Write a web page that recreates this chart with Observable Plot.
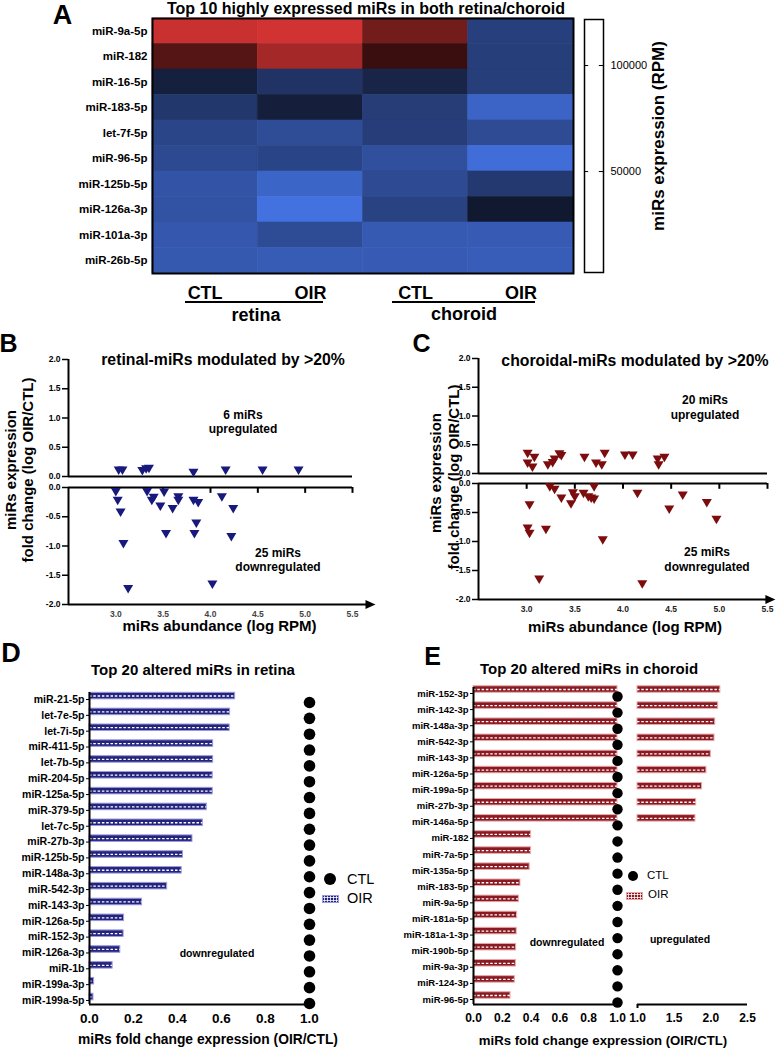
<!DOCTYPE html>
<html><head><meta charset="utf-8">
<script src="https://cdn.jsdelivr.net/npm/d3@7"></script>
<script src="https://cdn.jsdelivr.net/npm/@observablehq/plot@0.6"></script>
<style>
html,body{margin:0;padding:0;background:#fff;}
#root{position:relative;width:780px;height:1049px;overflow:hidden;font-family:"Liberation Sans",Arial,Helvetica,sans-serif;color:#000;background:#fff;}
.t{position:absolute;white-space:nowrap;transform:translate(-50%,-50%);line-height:1;font-weight:bold;}
.r{transform:translate(-50%,-50%) rotate(-90deg);}
.l{position:absolute;white-space:nowrap;transform:translate(0,-50%);line-height:1;}
</style></head><body><div id="root"></div>
<script>
// ---------------- DATA ----------------
// Panel A heatmap (RPM)
const heatMiRs = ["miR-9a-5p","miR-182","miR-16-5p","miR-183-5p","let-7f-5p","miR-96-5p","miR-125b-5p","miR-126a-3p","miR-101a-3p","miR-26b-5p"];
const heatGroups = ["retina CTL","retina OIR","choroid CTL","choroid OIR"];
const heatGroupTicks = ["CTL","OIR","CTL","OIR"];
const retinaCTL_RPM  = [115300, 79200, 53000, 38500, 29700, 27200, 20200, 20800, 17700, 17000];
const retinaOIR_RPM  = [117800,104000, 41000, 53700, 24900, 30000,  9500,  1900, 25300, 15200];
const choroidCTL_RPM = [ 88300, 70300, 49600, 34700, 34500, 23400, 26500, 31600, 16400, 15800];
const choroidOIR_RPM = [ 33500, 34000, 34100, 10100, 25900,  4400, 37300, 57500, 15500, 14500];
const colorbarTicks = [50000, 100000];

// Panels B/C scatter: [abundance (log RPM), fold change (log OIR/CTL)]
const retinaUp = [[3.03,0.10],[3.07,0.10],[3.28,0.09],[3.32,0.12],[3.35,0.13],[3.82,0.06],[4.16,0.10],[4.55,0.10],[4.93,0.10]];
const retinaDown = [[3.00,-0.08],[3.02,-0.23],[3.05,-0.43],[3.08,-0.97],[3.13,-1.74],[3.33,-0.08],[3.38,-0.23],[3.40,-0.18],[3.47,-0.33],[3.51,-0.09],[3.53,-0.80],[3.60,-0.37],[3.66,-0.17],[3.66,-0.23],[3.82,-0.23],[3.87,-0.27],[3.83,-0.80],[3.85,-0.62],[4.02,-1.66],[4.12,-0.17],[4.24,-0.37],[4.22,-0.85]];
const choroidUp = [[3.01,0.34],[3.08,0.27],[3.01,0.17],[3.06,0.10],[3.22,0.14],[3.27,0.18],[3.29,0.24],[3.34,0.33],[3.36,0.30],[3.60,0.27],[3.72,0.17],[3.78,0.14],[3.81,0.34],[4.02,0.31],[4.10,0.31],[4.36,0.24],[4.37,0.14],[4.43,0.27]];
const choroidDown = [[3.03,-0.38],[3.01,-0.78],[3.03,-0.87],[3.20,-0.80],[3.13,-1.66],[3.24,-0.07],[3.29,-0.11],[3.36,-0.26],[3.46,-0.36],[3.48,-0.17],[3.50,-0.24],[3.59,-0.18],[3.64,-0.24],[3.67,-0.26],[3.70,-0.07],[3.70,-0.28],[3.79,-0.98],[4.15,-0.18],[4.20,-1.74],[4.48,-0.45],[4.62,-0.21],[4.87,-0.34],[4.97,-0.63]];
const foldTicksUp = [0, 0.5, 1, 1.5, 2];
const foldTicksDown = [-2, -1.5, -1, -0.5, 0];
const abundanceTicks = [3, 3.5, 4, 4.5, 5, 5.5];

// Panel D
const retinaTop20 = ["miR-21-5p","let-7e-5p","let-7i-5p","miR-411-5p","let-7b-5p","miR-204-5p","miR-125a-5p","miR-379-5p","let-7c-5p","miR-27b-3p","miR-125b-5p","miR-148a-3p","miR-542-3p","miR-143-3p","miR-126a-5p","miR-152-3p","miR-126a-3p","miR-1b","miR-199a-3p","miR-199a-5p"];
const retinaFoldOIR = [0.662,0.639,0.637,0.562,0.562,0.560,0.560,0.533,0.515,0.468,0.425,0.419,0.353,0.239,0.157,0.155,0.140,0.105,0.021,0.018];
const retinaFoldCTL = [1,1,1,1,1,1,1,1,1,1,1,1,1,1,1,1,1,1,1,1];

// Panel E
const choroidTop20 = ["miR-152-3p","miR-142-3p","miR-148a-3p","miR-542-3p","miR-143-3p","miR-126a-5p","miR-199a-5p","miR-27b-3p","miR-146a-5p","miR-182","miR-7a-5p","miR-135a-5p","miR-183-5p","miR-9a-5p","miR-181a-5p","miR-181a-1-3p","miR-190b-5p","miR-9a-3p","miR-124-3p","miR-96-5p"];
const choroidFoldOIR = [2.13,2.10,2.06,2.05,2.00,1.94,1.88,1.80,1.79,0.40,0.40,0.39,0.326,0.315,0.303,0.300,0.296,0.294,0.287,0.257];
const choroidFoldCTL = [1,1,1,1,1,1,1,1,1,1,1,1,1,1,1,1,1,1,1,1];

// ---------------- HELPERS ----------------
const root = document.getElementById("root");
const FONT = '"Liberation Sans", Arial, Helvetica, sans-serif';
const base = {fontFamily: FONT, fontWeight: "bold", background: "transparent", overflow: "visible", color: "#000"};
function place(svg, left, top) {
  svg.style.position = "absolute"; svg.style.left = left + "px"; svg.style.top = top + "px";
  root.appendChild(svg);
}
function txt(s, cx, cy, size, extra = "", cls = "t") {
  const d = document.createElement("div");
  d.className = cls; d.textContent = s;
  d.style.cssText += `left:${cx}px;top:${cy}px;font-size:${size}px;${extra}`;
  root.appendChild(d); return d;
}
function box(left, top, w, h, css) {
  const d = document.createElement("div");
  d.style.cssText = `position:absolute;left:${left}px;top:${top}px;width:${w}px;height:${h}px;${css}`;
  root.appendChild(d); return d;
}
const f1 = d => d.toFixed(1);
const triDown = {draw(ctx) { ctx.moveTo(-5, -4.2); ctx.lineTo(5, -4.2); ctx.lineTo(0, 4.3); ctx.closePath(); }};
const triRight = {draw(ctx) { ctx.moveTo(-5, -4.5); ctx.lineTo(5, 0); ctx.lineTo(-5, 4.5); ctx.closePath(); }};

// ---------------- PANEL A ----------------
const heatData = [];
const heatCols = [retinaCTL_RPM, retinaOIR_RPM, choroidCTL_RPM, choroidOIR_RPM];
heatMiRs.forEach((m, i) => heatCols.forEach((arr, j) => heatData.push({mir: m, group: heatGroups[j], rpm: arr[i]})));

place(Plot.plot({
  width: 780, height: 330, marginLeft: 152, marginRight: 207, marginTop: 18, marginBottom: 57,
  style: base,
  x: {domain: heatGroups, padding: 0, round: false},
  y: {domain: heatMiRs, padding: 0, round: false},
  color: {type: "linear", domain: [0, 60000, 66000, 120000], range: ["#4574e6", "#0f1528", "#2c0b0b", "#d83434"], interpolate: "rgb"},
  marks: [
    Plot.cell(heatData, {x: "group", y: "mir", fill: "rpm", stroke: "rpm", strokeWidth: 0.6, inset: 0}),
    Plot.axisY({tickSize: 0, tickPadding: 5, fontSize: 11.5, label: null}),
    Plot.axisX({tickSize: 0, tickPadding: 12.7, fontSize: 18, label: null, tickFormat: d => heatGroupTicks[heatGroups.indexOf(d)]}),
    Plot.frame({stroke: "black", strokeWidth: 2})
  ]
}), 0, 0);

place(Plot.plot({
  width: 780, height: 330, marginLeft: 584, marginRight: 177, marginTop: 19, marginBottom: 58,
  style: {...base, fontWeight: "normal"},
  x: {domain: [0, 1], axis: null},
  y: {domain: [2400, 121700]},
  marks: [
    Plot.frame({stroke: "black", strokeWidth: 1.5}),
    Plot.ruleY(colorbarTicks, {x1: 0, x2: 0.22}),
    Plot.ruleY(colorbarTicks, {x1: 0.78, x2: 1}),
    Plot.axisY({anchor: "right", ticks: colorbarTicks, tickSize: 0, tickPadding: 7, fontSize: 11, label: null, tickFormat: d3.format("d")})
  ]
}), 0, 0);

txt("A", 62.5, 14.5, 27, "line-height:0.75");
txt("Top 10 highly expressed miRs in both retina/choroid", 366, 8.5, 16, "line-height:0.75");
txt("retina", 256, 315, 18);
txt("choroid", 464, 314, 18);
box(185, 301, 138, 2, "background:#000");
box(392, 301, 143, 2, "background:#000");
txt("miRs expression (RPM)", 658, 136, 17, "", "t r");

// ---------------- PANELS B / C ----------------
function scatter(cfg) {
  const {left, ml, mr, upMT, upMB, loMT, loMB, up, down, color, arrowX, lineX, tickFill} = cfg;
  place(Plot.plot({
    width: 390, height: 150, marginLeft: ml, marginRight: mr, marginTop: upMT, marginBottom: upMB,
    style: base,
    x: {domain: [2.5, 5.5], axis: null},
    y: {domain: [0, 2]},
    marks: [
      Plot.ruleX([2.5], {strokeWidth: 2}),
      Plot.ruleY([0], {x1: 2.5, x2: 5.5, strokeWidth: 1.8}),
      Plot.axisY({ticks: foldTicksUp, tickFormat: f1, tickSize: 6, tickPadding: 2, fontSize: 8.5, strokeWidth: 1.5, label: null}),
      Plot.dot(up, {x: d => d[0], y: d => d[1], symbol: triDown, fill: color})
    ]
  }), left, 340);
  place(Plot.plot({
    width: 390, height: 150, marginLeft: ml, marginRight: mr, marginTop: loMT, marginBottom: loMB,
    style: base,
    x: {domain: [2.5, 5.5]},
    y: {domain: [-2, 0]},
    marks: [
      Plot.ruleX([2.5], {strokeWidth: 2}),
      Plot.ruleY([0], {x1: 2.5, x2: 5.5, strokeWidth: 2}),
      Plot.ruleX(abundanceTicks, {y1: 0, y2: -0.1, strokeWidth: 2}),
      Plot.ruleY([-2], {x1: 2.5, x2: lineX, strokeWidth: 2}),
      Plot.dot([arrowX], {x: d => d, y: -2, symbol: triRight, fill: "black"}),
      Plot.axisY({ticks: foldTicksDown, tickFormat: f1, tickSize: 6, tickPadding: 2, fontSize: 8.5, strokeWidth: 1.5, label: null}),
      Plot.axisX({ticks: abundanceTicks, tickFormat: f1, tickSize: 0, tickPadding: 6, fontSize: 8.5, fill: tickFill, label: null}),
      Plot.dot(down, {x: d => d[0], y: d => d[1], symbol: triDown, fill: color})
    ]
  }), left, 480);
}
scatter({left: 0, ml: 68, mr: 38, upMT: 19, upMB: 14, loMT: 7, loMB: 26, up: retinaUp, down: retinaDown,
  color: "#17197d", arrowX: 5.69, lineX: 5.66, tickFill: "#444"});
scatter({left: 390, ml: 88, mr: 13, upMT: 18, upMB: 17, loMT: 3, loMB: 31, up: choroidUp, down: choroidDown,
  color: "#7d0c0e", arrowX: 5.53, lineX: 5.51, tickFill: "#222"});

txt("B", 8.5, 342.5, 25);
txt("retinal-miRs modulated by >20%", 223, 360, 15.8);
txt("6 miRs", 243, 415, 12);
txt("upregulated", 243, 429, 12);
txt("25 miRs", 278, 553, 12);
txt("downregulated", 278, 567, 12);
txt("miRs expression", 10, 470, 15, "", "t r");
txt("fold change (log OIR/CTL)", 27, 470, 15, "", "t r");
txt("miRs abundance (log RPM)", 219.5, 625, 15);

txt("C", 421.5, 342.5, 25);
txt("choroidal-miRs modulated by >20%", 635, 361, 15.8);
txt("20 miRs", 705, 400, 12);
txt("upregulated", 705, 415, 12);
txt("25 miRs", 707, 552, 12);
txt("downregulated", 707, 567, 12);
txt("miRs expression", 435, 473, 15, "", "t r");
txt("fold change (log OIR/CTL)", 453, 477, 15, "", "t r");
txt("miRs abundance (log RPM)", 625, 626, 15);

// ---------------- PANEL D ----------------
const navy = "#24247c", navyEdge = "#9a9ae0";
const dRows = retinaTop20.map((n, i) => ({name: n, oir: retinaFoldOIR[i], ctl: retinaFoldCTL[i]}));
place(Plot.plot({
  width: 390, height: 409, marginLeft: 89, marginRight: 81, marginTop: 52, marginBottom: 45,
  style: base,
  x: {domain: [0, 1]},
  y: {type: "band", domain: retinaTop20, range: [51.1, 367.9], padding: 0, round: false},
  marks: [
    Plot.barX(dRows, {y: "name", x: "oir", fill: navy, stroke: navyEdge, strokeWidth: 1, insetTop: 1.2, insetBottom: 8.1}),
    Plot.ruleY(dRows, {y: "name", x1: 0, x2: "oir", dy: -3.5, stroke: "white", strokeWidth: 1.3, strokeDasharray: "2.5,1.8"}),
    Plot.dot(dRows, {y: "name", x: "ctl", dy: 3, r: 5.8, fill: "black"}),
    Plot.ruleX([0], {strokeWidth: 2}),
    Plot.ruleY([retinaTop20[retinaTop20.length - 1]], {x1: 0, x2: 1.01, dy: 4, strokeWidth: 2}),
    Plot.axisY({tickSize: 3, tickPadding: 2, fontSize: 10.5, label: null}),
    Plot.axisX({ticks: [0, 0.2, 0.4, 0.6, 0.8, 1], tickFormat: f1, tickSize: 0, tickPadding: 9.3, fontSize: 13.5, label: null})
  ]
}), 0, 640);

txt("D", 11, 652.5, 27);
txt("Top 20 altered miRs in retina", 193, 669, 15);
txt("downregulated", 217, 953, 10.5);
txt("miRs fold change expression (OIR/CTL)", 208, 1040, 13.8);
box(324, 873.3, 12, 12, "background:#000;border-radius:50%");
txt("CTL", 347, 879, 14.5, "font-weight:normal", "l");
box(322, 895, 15, 6, `background:${navy};border:1px solid ${navyEdge};background-image:radial-gradient(circle,#fff 0.9px,transparent 1.3px);background-size:3px 3px`);
txt("OIR", 347, 898, 14.5, "font-weight:normal", "l");

// ---------------- PANEL E ----------------
const red = "#8a1a22", redEdge = "#e8a8a8";
const eRows = choroidTop20.map((n, i) => ({name: n, oir: choroidFoldOIR[i], ctl: choroidFoldCTL[i]}));
const eUp = eRows.filter(d => d.oir > 1);
const yE = {type: "band", domain: choroidTop20, range: [44.95, 367.05], padding: 0, round: false};
place(Plot.plot({
  width: 260, height: 409, marginLeft: 83, marginRight: 33, marginTop: 47, marginBottom: 45,
  style: base,
  x: {domain: [0, 1]},
  y: yE,
  marks: [
    Plot.barX(eRows, {y: "name", x: d => Math.min(d.oir, 1), fill: red, stroke: redEdge, strokeWidth: 1, insetTop: 0.8, insetBottom: 8.8}),
    Plot.ruleY(eRows, {y: "name", x1: 0, x2: d => Math.min(d.oir, 1), dy: -4, stroke: "white", strokeWidth: 1.3, strokeDasharray: "2.5,1.8"}),
    Plot.dot(eRows, {y: "name", x: "ctl", dy: 3, r: 5.2, fill: "black"}),
    Plot.ruleX([0], {strokeWidth: 2}),
    Plot.ruleY([choroidTop20[choroidTop20.length - 1]], {x1: 0, x2: 1, dy: 5, strokeWidth: 2}),
    Plot.axisY({tickSize: 3, tickPadding: 2, fontSize: 9.5, label: null}),
    Plot.axisX({ticks: [0, 0.2, 0.4, 0.6, 0.8, 1], tickFormat: f1, tickSize: 0, tickPadding: 8.8, fontSize: 12, label: null})
  ]
}), 390, 640);

place(Plot.plot({
  width: 150, height: 409, marginLeft: 7, marginRight: 33, marginTop: 47, marginBottom: 45,
  style: base,
  x: {domain: [1, 2.5]},
  y: {...yE, axis: null},
  marks: [
    Plot.barX(eUp, {y: "name", x1: 1, x2: "oir", fill: red, stroke: redEdge, strokeWidth: 1, insetTop: 0.8, insetBottom: 8.8}),
    Plot.ruleY(eUp, {y: "name", x1: 1, x2: "oir", dy: -4, stroke: "white", strokeWidth: 1.3, strokeDasharray: "2.5,1.8"}),
    Plot.ruleY([choroidTop20[choroidTop20.length - 1]], {x1: 1, x2: 2.5, dy: 5, strokeWidth: 2}),
    Plot.axisX({ticks: [1], tickFormat: () => "", tickSize: 4, strokeWidth: 2, label: null}),
    Plot.axisX({ticks: [1, 1.5, 2, 2.5], tickFormat: f1, tickSize: 0, tickPadding: 8.8, fontSize: 12, label: null})
  ]
}), 630, 640);

txt("E", 432.5, 656, 25);
txt("Top 20 altered miRs in choroid", 589, 668, 15);
txt("downregulated", 567, 942, 10.5);
txt("upregulated", 680, 939, 10.5);
txt("miRs fold change expression (OIR/CTL)", 603, 1041, 13.2);
box(627.7, 870.7, 10, 10, "background:#000;border-radius:50%");
txt("CTL", 647, 876, 11.5, "font-weight:normal", "l");
box(626, 892, 15, 6, `background:${red};border:1px solid ${redEdge};background-image:radial-gradient(circle,#fff 0.9px,transparent 1.3px);background-size:3px 3px`);
txt("OIR", 648, 895, 11.5, "font-weight:normal", "l");
</script></body></html>
